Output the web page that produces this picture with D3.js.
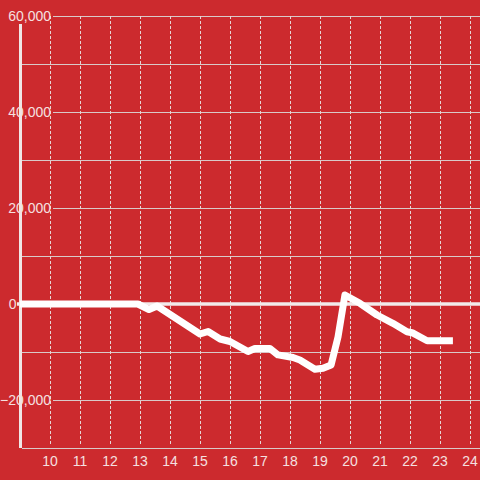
<!DOCTYPE html>
<html><head><meta charset="utf-8">
<script src="https://cdn.jsdelivr.net/npm/d3@7"></script>
<style>
html,body{margin:0;padding:0;background:#cc2a2e;}
svg{display:block;}
text{font-family:"Liberation Sans",Arial,sans-serif;}
</style></head>
<body>
<svg id="c" width="480" height="480"></svg>
<script>
const xs = [9, 12.93, 13.3, 13.57, 15.0, 15.27, 15.67, 16.0, 16.33, 16.6, 16.83, 17.33, 17.6, 18.1, 18.33, 18.83, 19.1, 19.37, 19.6, 19.83, 20.33, 20.9, 21.43, 21.9, 22.07, 22.57, 23.43];
const ys = [0, 0, -1150, -420, -6250, -5730, -7290, -7810, -8960, -9900, -9270, -9270, -10600, -11150, -11670, -13600, -13400, -12700, -6880, 1880, 150, -2290, -4020, -5770, -5980, -7650, -7650];
const xTicks = [10,11,12,13,14,15,16,17,18,19,20,21,22,23,24];
const yLabelTicks = [60000, 40000, 20000, 0, -20000];
const yMinorTicks = [50000, 30000, 10000, -10000];

const svg = d3.select("#c");
const x = d3.scaleLinear().domain([9, 24.333]).range([20, 480]);
const y = d3.scaleLinear().domain([-30000, 60000]).range([448, 16]);

// minor horizontal gridlines
svg.append("g").selectAll("line").data(yMinorTicks).join("line")
  .attr("x1", 22).attr("x2", 480)
  .attr("y1", d => Math.round(y(d)) + 0.5).attr("y2", d => Math.round(y(d)) + 0.5)
  .attr("stroke", "#d9c9c9").attr("stroke-width", 1);
// labeled horizontal gridlines
svg.append("g").selectAll("line").data(yLabelTicks.filter(d => d !== 0)).join("line")
  .attr("x1", 53).attr("x2", 480)
  .attr("y1", d => Math.round(y(d)) + 0.5).attr("y2", d => Math.round(y(d)) + 0.5)
  .attr("stroke", "#d9c9c9").attr("stroke-width", 1);
// bottom baseline
svg.append("line").attr("x1", 22).attr("x2", 480)
  .attr("y1", 448.5).attr("y2", 448.5).attr("stroke", "#d9c9c9");

// vertical dashed gridlines
svg.append("g").selectAll("line").data(xTicks).join("line")
  .attr("x1", d => Math.round(x(d)) + 0.5).attr("x2", d => Math.round(x(d)) + 0.5)
  .attr("y1", 16).attr("y2", 446)
  .attr("stroke", "#e6d6d6").attr("stroke-width", 1).attr("stroke-dasharray", "3,2");

// y axis line
svg.append("line").attr("x1", 20.5).attr("x2", 20.5).attr("y1", 24).attr("y2", 448)
  .attr("stroke", "#f0e6e6").attr("stroke-width", 3);

// zero line
svg.append("line").attr("x1", 17).attr("x2", 480).attr("y1", y(0)).attr("y2", y(0))
  .attr("stroke", "#f2eaea").attr("stroke-width", 3.5);

// y labels
const fmt = d3.format(",");
svg.append("g").selectAll("text").data(yLabelTicks).join("text")
  .attr("x", d => d === 0 ? 16.5 : 51).attr("y", d => y(d)).attr("dy", "0.36em")
  .attr("text-anchor", "end").attr("font-size", 14).attr("fill", "#f5e0e0")
  .text(d => fmt(d));

// x labels
svg.append("g").selectAll("text").data(xTicks).join("text")
  .attr("x", d => x(d)).attr("y", 466)
  .attr("text-anchor", "middle").attr("font-size", 14).attr("fill", "#f5e0e0")
  .text(d => d);

// data line
const pts = xs.map((d, i) => [d, ys[i]]);
svg.append("path").datum(pts)
  .attr("d", d3.line().x(d => x(d[0])).y(d => y(d[1])))
  .attr("fill", "none").attr("stroke", "#ffffff").attr("stroke-width", 7)
  .attr("stroke-linejoin", "round");
</script>
</body></html>
